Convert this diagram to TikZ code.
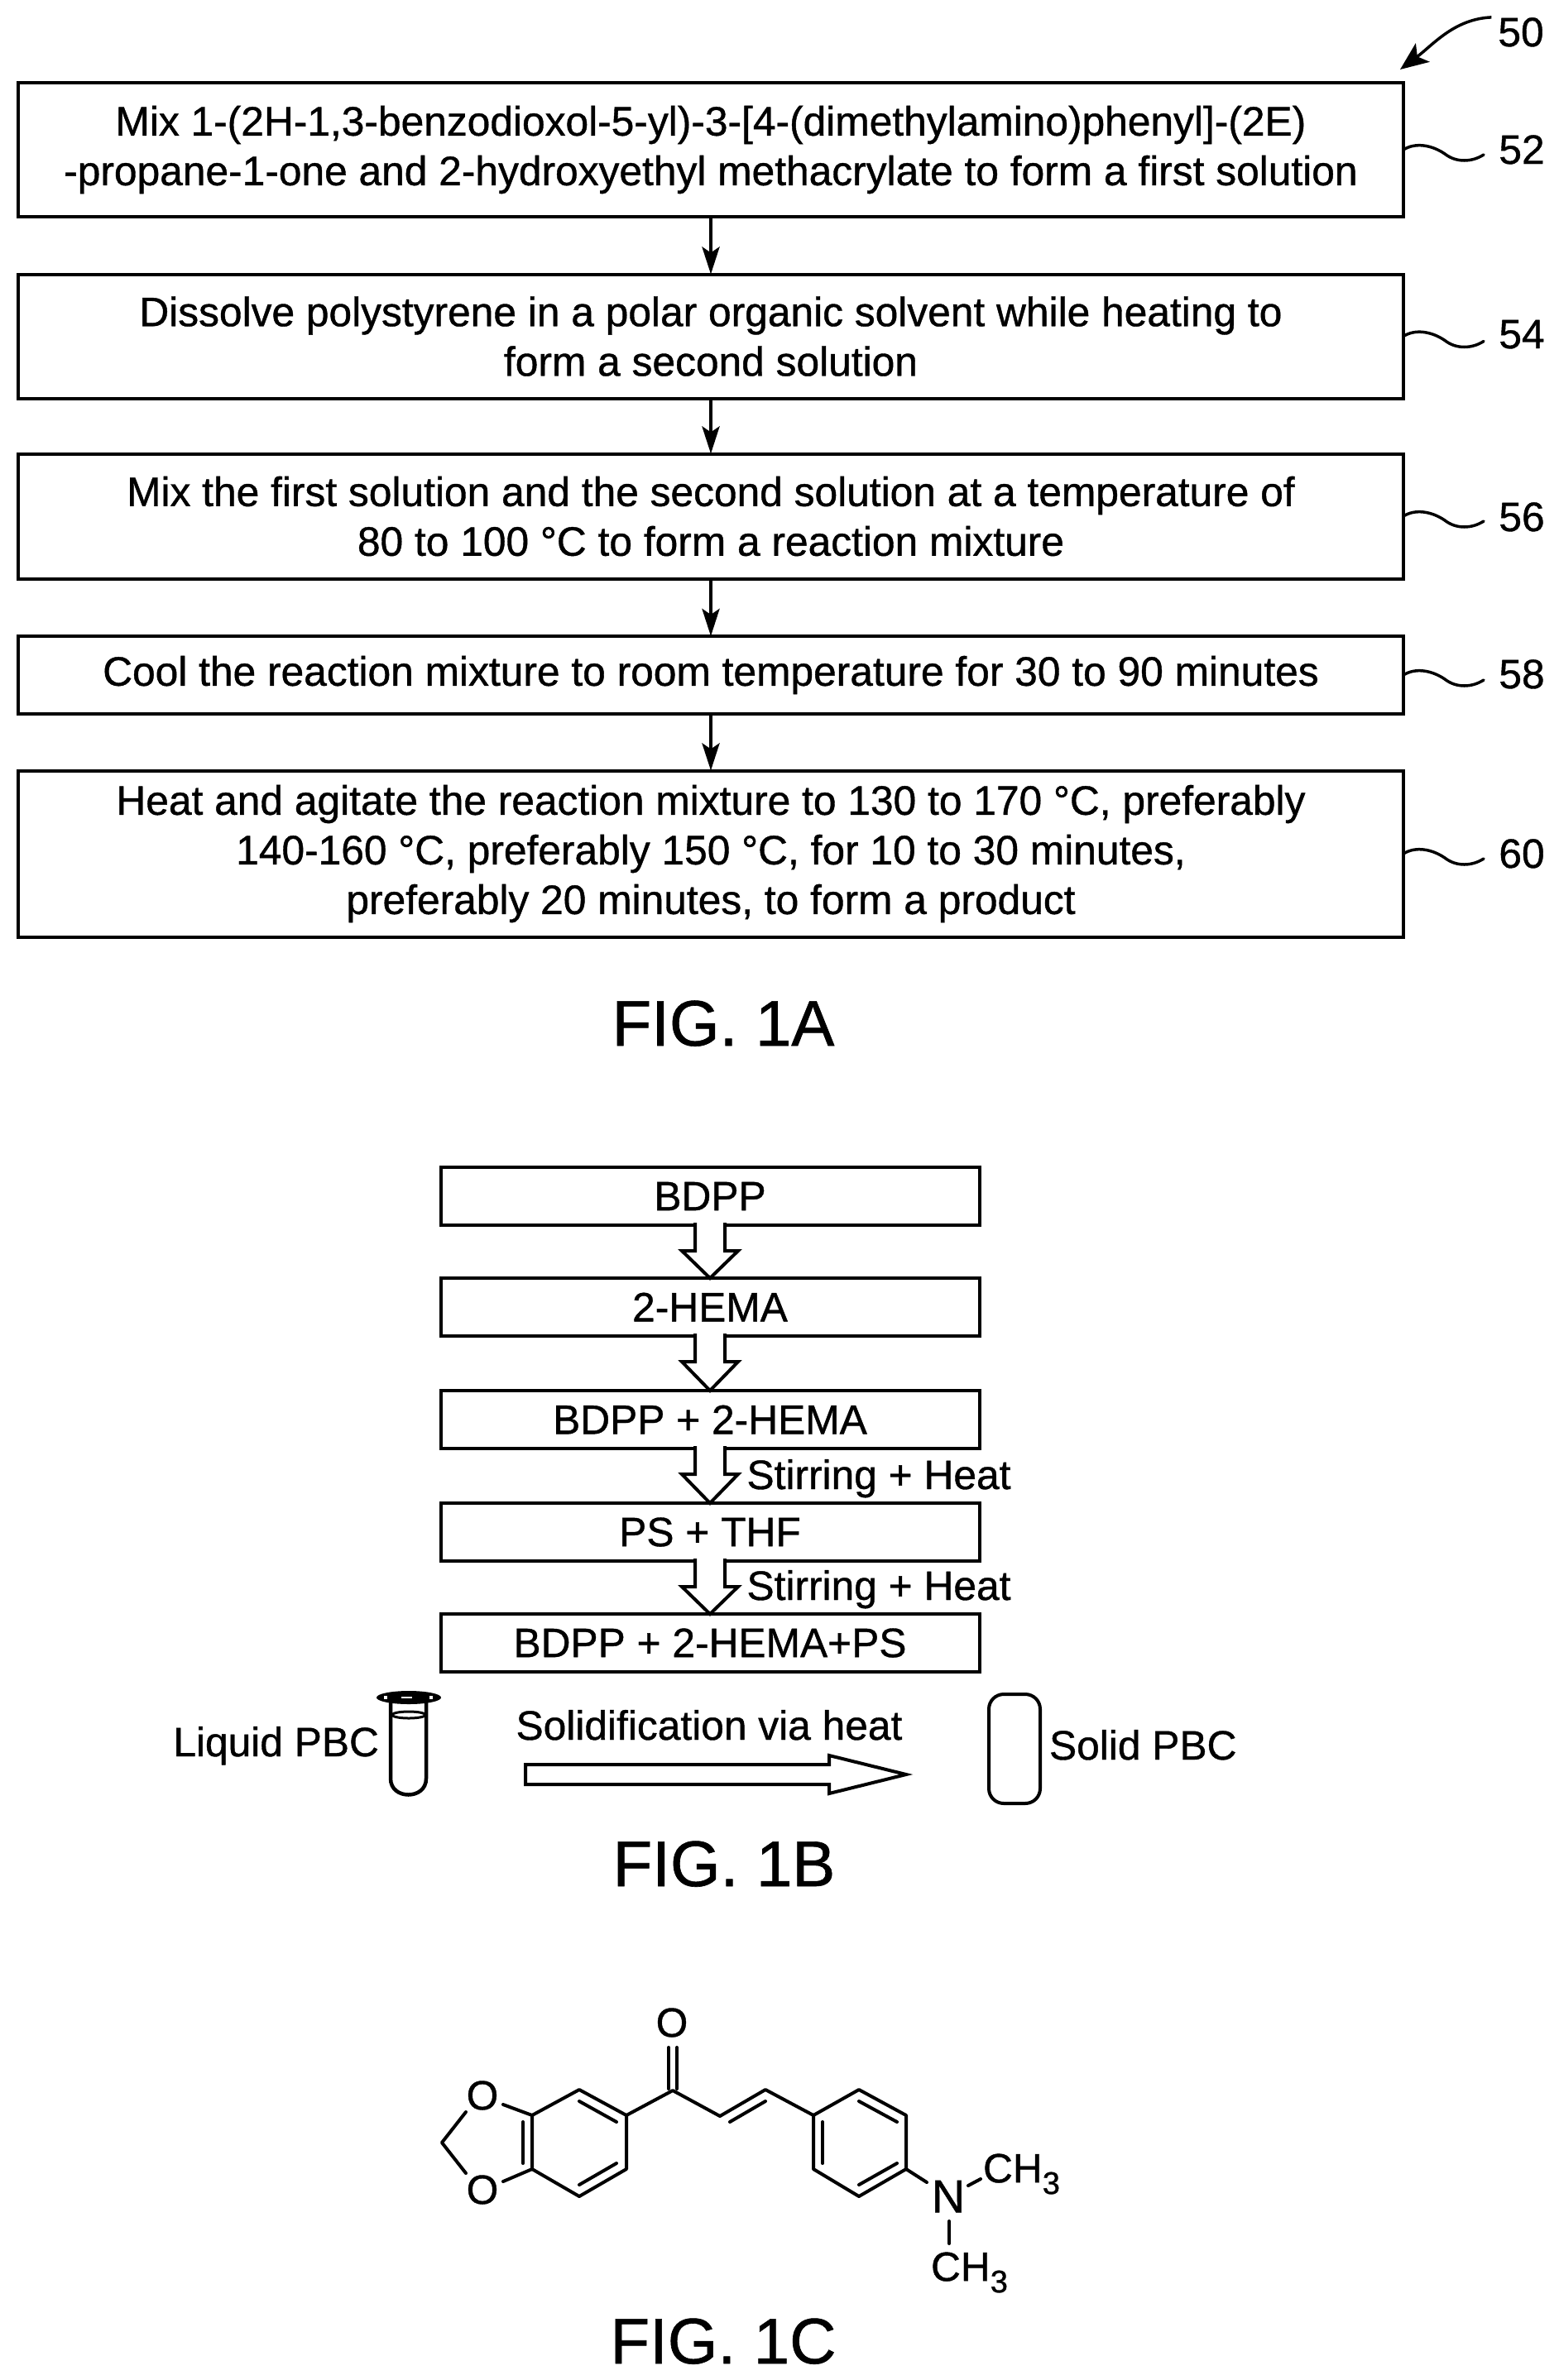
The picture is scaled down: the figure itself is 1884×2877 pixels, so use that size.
\documentclass[tikz,border=0pt]{standalone}
\usepackage{fontspec}
\setmainfont{Liberation Sans}[FakeBold=0.8]
\usetikzlibrary{arrows.meta,calc}
\newcommand{\bodyfont}{\fontsize{49.7}{60}\selectfont}
\newcommand{\figfont}{\fontsize{78}{90}\selectfont}
\newcommand{\subthree}{\raisebox{-0.28em}{\fontsize{38}{38}\selectfont 3}}
\tikzset{
  flowbox/.style={draw=black,line width=4pt,fill=white,inner sep=0pt,outer sep=0pt,align=center,font=\bodyfont,minimum width=1674pt},
  chembox/.style={draw=black,line width=4pt,fill=white,inner sep=0pt,outer sep=0pt,align=center,font=\bodyfont,minimum width=651pt,minimum height=70pt},
  flowarrow/.style={line width=4.5pt,-{Stealth[length=33pt,width=21pt,inset=7pt]}},
  hollow/.style={draw=black,line width=4pt,fill=white,line join=miter},
  leader/.style={line width=3.5pt,line cap=round},
  lbl/.style={inner sep=0pt,outer sep=0pt,font=\bodyfont,anchor=base},
  figlbl/.style={inner sep=0pt,outer sep=0pt,font=\figfont,anchor=base},
  bond/.style={line width=4pt,line cap=round,line join=round},
  atom/.style={inner sep=0pt,outer sep=0pt,font=\bodyfont}
}
\begin{document}
\begin{tikzpicture}[x=1pt,y=-1pt]
\useasboundingbox[fill=white] (0,0) rectangle (1884,2877);
% Fig 1A boxes
\node[flowbox,minimum height=162pt] (b1) at (859,181) {Mix 1-(2H-1,3-benzodioxol-5-yl)-3-[4-(dimethylamino)phenyl]-(2E)\\-propane-1-one and 2-hydroxyethyl methacrylate to form a first solution};
\node[flowbox,minimum height=150pt] (b2) at (859,406.5) {Dissolve polystyrene in a polar organic solvent while heating to\\form a second solution};
\node[flowbox,minimum height=151pt] (b3) at (859,624) {Mix the first solution and the second solution at a temperature of\\80 to 100 °C to form a reaction mixture};
\node[flowbox,minimum height=94pt] (b4) at (859,816) {Cool the reaction mixture to room temperature for 30 to 90 minutes};
\node[flowbox,minimum height=201pt] (b5) at (859,1032) {Heat and agitate the reaction mixture to 130 to 170 °C, preferably\\140-160 °C, preferably 150 °C, for 10 to 30 minutes,\\preferably 20 minutes, to form a product};
\draw[flowarrow] (b1) -- (b2);
\draw[flowarrow] (b2) -- (b3);
\draw[flowarrow] (b3) -- (b4);
\draw[flowarrow] (b4) -- (b5);
% reference labels
\node[lbl] (n50) at (1838,56) {50};
\node[lbl] (n52) at (1839,198) {52};
\node[lbl] (n54) at (1839,421) {54};
\node[lbl] (n56) at (1839,642) {56};
\node[lbl] (n58) at (1839,832) {58};
\node[lbl] (n60) at (1839,1049) {60};
\draw[line width=3.5pt,-{Stealth[length=34pt,width=28pt,inset=8pt]}] (n50.west) ++(-8,-18) .. controls +(-45,2) and +(40,-30) .. (1692,84);
\foreach \b/\n in {b1/n52,b2/n54,b3/n56,b4/n58,b5/n60}{
  \draw[leader] (\b.east) .. controls +(14,-9) and +(-16,-11) .. ($(\b.east)+(50,5)$) .. controls +(14,11) and +(-14,9) .. ($(\b.east)+(97,6)$);
}
% Fig 1A caption
\node[figlbl] (f1a) at (874,1264) {FIG. 1A};
% Fig 1B boxes
\node[chembox] (c1) at (858,1446) {BDPP};
\node[chembox] (c2) at (858,1580) {2-HEMA};
\node[chembox] (c3) at (858,1716) {BDPP + 2-HEMA};
\node[chembox] (c4) at (858,1852) {PS + THF};
\node[chembox] (c5) at (858,1986) {BDPP + 2-HEMA+PS};
\foreach \a/\b in {c1/c2,c2/c3,c3/c4,c4/c5}{
  \draw[hollow] ($(\a.south)+(-18,-3)$) -- ++(0,34) -- ++(-16,0) -- (\b.north) -- ($(\a.south)+(34,31)$) -- ++(-16,0) -- ($(\a.south)+(18,-3)$);
}
\node[lbl] (s1) at (1062,1800) {Stirring + Heat};
\node[lbl] (s2) at (1062,1934) {Stirring + Heat};
% tubes and arrow
\node[lbl,anchor=base east] (lq) at (458,2123) {Liquid PBC};
\draw[line width=4.5pt] (472,2056) -- (472,2150) .. controls (472,2176) and (515,2176) .. (515,2150) -- (515,2056);
\fill[black] (494,2052) ellipse[x radius=39,y radius=8];
\fill[white] (485,2051) rectangle (498,2053);
\fill[white] (464,2050) rectangle (468,2054);
\fill[white] (519,2050) rectangle (523,2054);
\draw[line width=3pt] (494,2073) ellipse[x radius=20,y radius=4];
\node[lbl] (sv) at (857,2103) {Solidification via heat};
\draw[hollow] (635,2133) -- (1002,2133) -- (1002,2122) -- (1095,2145) -- (1002,2168) -- (1002,2157) -- (635,2157) -- cycle;
\draw[line width=4pt,rounded corners=18pt] (1195,2048) rectangle (1257,2180);
\node[lbl,anchor=base west] (sd) at (1268,2127) {Solid PBC};
\node[figlbl] (f1b) at (875,2280) {FIG. 1B};
% Fig 1C molecule
\coordinate (a) at (643,2557); \coordinate (b) at (700,2526); \coordinate (c) at (757,2557);
\coordinate (d) at (757,2622); \coordinate (e) at (700,2655); \coordinate (f) at (643,2622);
\coordinate (g) at (983,2557); \coordinate (h) at (1038,2526); \coordinate (i) at (1095,2557);
\coordinate (j) at (1095,2622); \coordinate (k) at (1038,2655); \coordinate (l) at (983,2622);
\coordinate (co) at (813,2527); \coordinate (v1) at (870,2558); \coordinate (v2) at (925,2526);
\coordinate (ch2) at (534,2590);
\node[atom] (o1) at (583,2533) {O};
\node[atom] (o2) at (583,2647) {O};
\node[atom] (o3) at (812,2445) {O};
\node[atom,font=\fontsize{56}{60}\selectfont] (nn) at (1146,2655) {N};
\node[atom,anchor=west] (m1) at (1188,2628) {CH\subthree};
\node[atom,anchor=west] (m2) at (1125,2747) {CH\subthree};
\draw[bond] (a) -- (b) -- (c) -- (d) -- (e) -- (f) -- cycle;
\draw[bond] (g) -- (h) -- (i) -- (j) -- (k) -- (l) -- cycle;
\draw[bond] (632,2565) -- (632,2615);
\draw[bond] (700,2540) -- (745,2565);
\draw[bond] (745,2615) -- (700,2641);
\draw[bond] (1038,2540) -- (1084,2565);
\draw[bond] (1084,2615) -- (1038,2641);
\draw[bond] (994,2565) -- (994,2615);
\draw[bond] (c) -- (co) -- (v1) -- (v2) -- (g);
\draw[bond] (882,2565) -- (925,2540);
\draw[bond] (808,2475) -- (808,2525);
\draw[bond] (818,2475) -- (818,2525);
\draw[bond] (608,2544) -- (a);
\draw[bond] (608,2637) -- (f);
\draw[bond] (563,2553) -- (ch2) -- (563,2627);
\draw[bond] (j) -- (1120,2638);
\draw[bond] (1170,2642) -- (1185,2634);
\draw[bond] (1147,2685) -- (1147,2712);
\node[figlbl] (f1c) at (874,2857) {FIG. 1C};
\end{tikzpicture}
\end{document}
